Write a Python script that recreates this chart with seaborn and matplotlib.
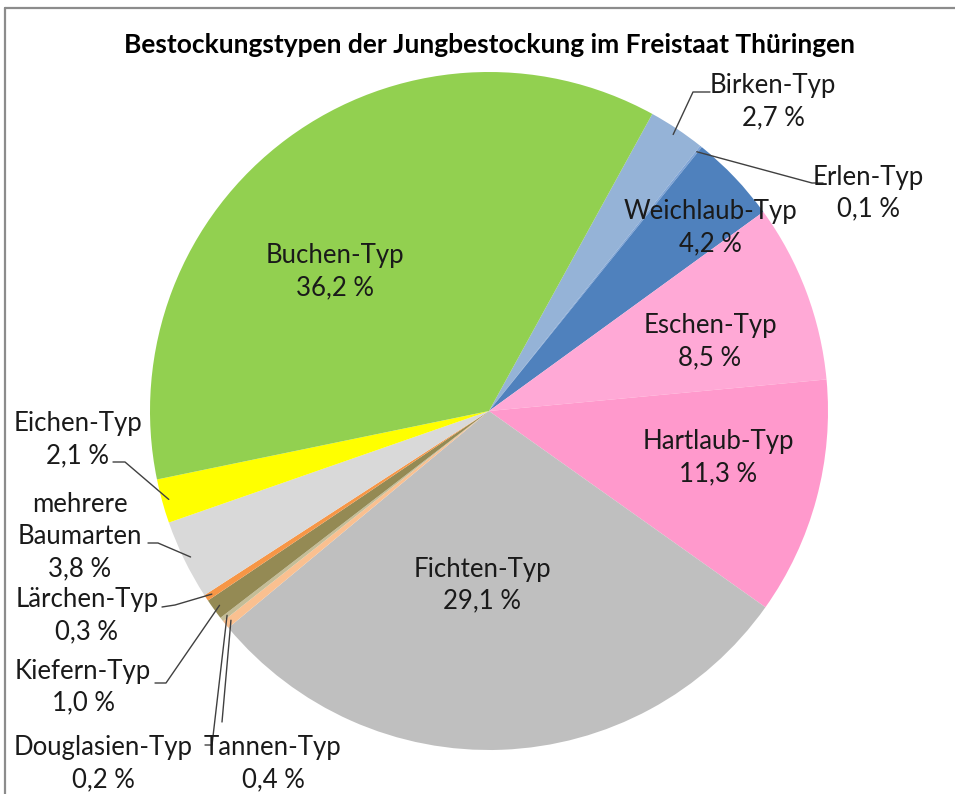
import numpy as np
import matplotlib
matplotlib.use("Agg")
import matplotlib.pyplot as plt
import seaborn as sns

# Data (clockwise order, starting with Birken-Typ)
labels = ["Birken-Typ", "Erlen-Typ", "Weichlaub-Typ", "Eschen-Typ", "Hartlaub-Typ",
          "Fichten-Typ", "Tannen-Typ", "Douglasien-Typ", "Kiefern-Typ", "Lärchen-Typ",
          "mehrere\nBaumarten", "Eichen-Typ", "Buchen-Typ"]
values = [2.7, 0.1, 4.2, 8.5, 11.3, 29.1, 0.4, 0.2, 1.0, 0.3, 3.8, 2.1, 36.2]
colors = ["#95B3D7", "#7FA4D6", "#4F81BD", "#FFA9D6", "#FF99CC",
          "#BFBFBF", "#FAC090", "#C4BD97", "#948A54", "#F79646",
          "#D9D9D9", "#FFFF00", "#92D050"]
title = "Bestockungstypen der Jungbestockung im Freistaat Thüringen"

sns.set_style("white")
plt.rcParams["font.family"] = ["Lato", "DejaVu Sans"]

W, H = 955, 794
CX, CY, R = 489, 411, 339


def px(x, y):
    # pixel position -> data coords (pie radius = 1)
    return (x - CX) / R, (CY - y) / R


fig = plt.figure(figsize=(W / 100, H / 100), dpi=100)
ax = fig.add_axes([0, 0, 1, 1])

wedges, _ = ax.pie(values, colors=colors, startangle=61.2, counterclock=False,
                   radius=1, center=(0, 0), wedgeprops=dict(linewidth=0))
ax.set_aspect("auto")
ax.set_xlim(-CX / R, (W - CX) / R)
ax.set_ylim(-(H - CY) / R, CY / R)
ax.axis("off")


def fmt(v):
    return f"{v:.1f} %".replace(".", ",")


fs = 18.5
# labels inside the pie
inside = {"Buchen-Typ": (335, 272), "Weichlaub-Typ": (710, 228), "Eschen-Typ": (710, 342),
          "Hartlaub-Typ": (718, 458), "Fichten-Typ": (482, 585)}
# labels outside: text center, leader elbow point, leader end near text
outside = {"Birken-Typ": ((773, 102), (693, 92), (710, 92)),
           "Erlen-Typ": ((868, 193), (812, 183), (823, 183)),
           "Eichen-Typ": ((78, 440), (125, 462), (113, 462)),
           "mehrere\nBaumarten": ((80, 537), (158, 543), (148, 543)),
           "Lärchen-Typ": ((87, 616), (175, 605), (162, 607)),
           "Kiefern-Typ": ((83, 687), (166, 683), (155, 683)),
           "Douglasien-Typ": ((103, 764), (212, 745), (205, 745)),
           "Tannen-Typ": ((273, 764), (222, 722), (222, 722))}

for w, lab, v in zip(wedges, labels, values):
    txt = f"{lab}\n{fmt(v)}"
    if lab in inside:
        x, y = px(*inside[lab])
        ax.text(x, y, txt, ha="center", va="center", fontsize=fs,
                linespacing=1.35, color="#1a1a1a")
    else:
        tpos, elbow, end = outside[lab]
        x, y = px(*tpos)
        ax.text(x, y, txt, ha="center", va="center", fontsize=fs,
                linespacing=1.35, color="#1a1a1a")
        ang = np.deg2rad((w.theta1 + w.theta2) / 2)
        ex, ey = px(*elbow)
        nx, ny = px(*end)
        ax.plot([0.98 * np.cos(ang), ex, nx], [0.98 * np.sin(ang), ey, ny],
                color="#404040", lw=1)

fig.text(0.513, 1 - 45 / H, title, ha="center", va="center",
         fontsize=19, fontweight="bold", color="#000000")

# chart frame (top and left edges visible)
fig.add_artist(plt.Line2D([5 / W, 1], [1 - 8 / H, 1 - 8 / H], color="#8c8c8c", lw=1.6))
fig.add_artist(plt.Line2D([5 / W, 5 / W], [0, 1 - 8 / H], color="#8c8c8c", lw=1.6))

fig.savefig("out.png", dpi=100)
